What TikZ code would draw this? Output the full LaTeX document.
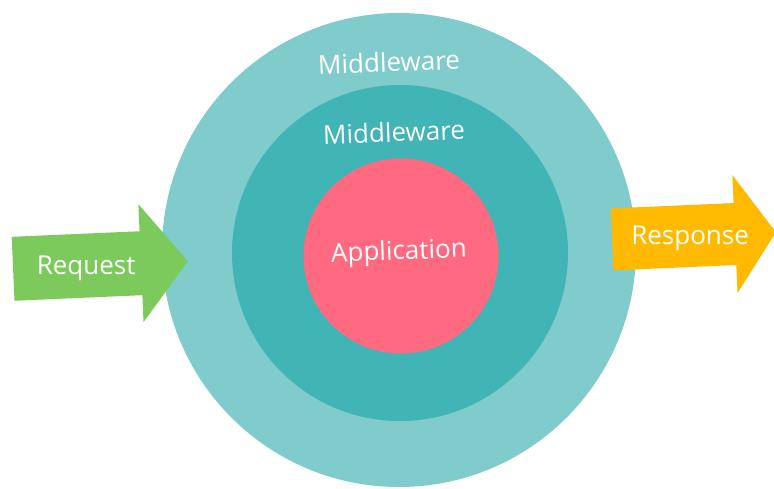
\documentclass[tikz,border=0pt]{standalone}
\usepackage{fontspec}
\setmainfont{Open Sans}
\definecolor{outerteal}{HTML}{80CCCC}
\definecolor{innerteal}{HTML}{41B4B5}
\definecolor{apppink}{HTML}{FF6A80}
\definecolor{reqgreen}{HTML}{7CC95C}
\definecolor{resporange}{HTML}{FFBA00}
\tikzset{
  ring/.style={circle, inner sep=0pt, draw=none},
  label/.style={text=white, font=\fontsize{26}{30}\selectfont, inner sep=0pt},
}
\begin{document}
\begin{tikzpicture}[x=1pt,y=-1pt]
\useasboundingbox (0,0) rectangle (774,488);
\node[ring, fill=outerteal, minimum size=474pt] (outer) at (399,250) {};
\node[ring, fill=innerteal, minimum size=336pt] (middle) at (400,253) {};
\node[ring, fill=apppink, minimum size=195pt] (app) at (401,256) {};
\node[label, rotate=2] (mw1) at (389,62) {Middleware};
\node[label, rotate=2] (mw2) at (394,132) {Middleware};
\node[label, rotate=2] (apptext) at (399,253) {Application};
\begin{scope}[rotate around={2.5:(100,265)}]
  \fill[reqgreen] (13,233) -- (141,233) -- (141,206) -- (188,265) -- (141,324) -- (141,297) -- (13,297) -- cycle;
  \node[label] (req) at (86,268) {Request};
\end{scope}
\begin{scope}[rotate around={2.5:(690,236)}]
  \fill[resporange] (612,205) -- (735,205) -- (735,177) -- (776,236) -- (735,295) -- (735,267) -- (612,267) -- cycle;
  \node[label] (resp) at (690,238) {Response};
\end{scope}
\end{tikzpicture}
\end{document}
